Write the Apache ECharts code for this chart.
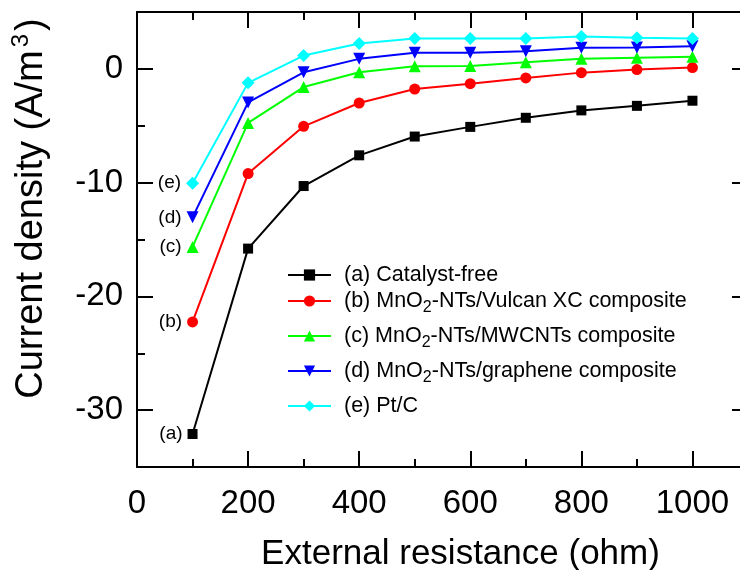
<!DOCTYPE html>
<html><head><meta charset="utf-8">
<script src="https://cdn.jsdelivr.net/npm/echarts@6/dist/echarts.min.js"></script>
<style>html,body{margin:0;padding:0;background:#fff}#c{width:740px;height:570px}</style>
</head><body><div id="c"></div>
<script>
const resistance = [100, 200, 300, 400, 500, 600, 700, 800, 900, 1000];
const seriesNames = [
  '(a) Catalyst-free',
  '(b) MnO2-NTs/Vulcan XC composite',
  '(c) MnO2-NTs/MWCNTs composite',
  '(d) MnO2-NTs/graphene composite',
  '(e) Pt/C'
];
const catalystFree = [-32.1, -15.8, -10.3, -7.6, -5.95, -5.1, -4.3, -3.65, -3.25, -2.8];
const vulcanXC     = [-22.25, -9.2, -5.05, -3.0, -1.77, -1.3, -0.8, -0.33, -0.06, 0.11];
const mwcnts       = [-15.65, -4.75, -1.6, -0.3, 0.23, 0.25, 0.58, 0.88, 0.97, 1.06];
const graphene     = [-13.05, -2.95, -0.3, 0.88, 1.41, 1.41, 1.55, 1.85, 1.87, 1.99];
const ptC          = [-10.05, -1.23, 1.17, 2.23, 2.67, 2.67, 2.68, 2.85, 2.73, 2.67];
const pointLabels = ['(a)', '(b)', '(c)', '(d)', '(e)'];
const xTickValues = [0, 200, 400, 600, 800, 1000];
const xMinorTickValues = [100, 300, 500, 700, 900];
const yTickValues = [-30, -20, -10, 0];
const yMinorTickValues = [-35, -25, -15, -5, 5];

const FONT = 'Liberation Sans, Arial, sans-serif';
const colors = ['#000000', '#ff0000', '#00ff00', '#0000ff', '#00ffff'];
const symbols = ['rect', 'circle', 'triangle', 'triangle', 'diamond'];
const symbolSizes = [10, 11, 12, 12, 13];
const symbolRotates = [0, 0, 0, 180, 0];
const legendCenters = [273, 299, 334, 369, 404];
const allValues = [catalystFree, vulcanXC, mwcnts, graphene, ptC];

function tickStyle(len, values) {
  return { show: true, inside: true, length: len, customValues: values, lineStyle: { color: '#000', width: 2 } };
}
function axisCommon(pos, extra) {
  return Object.assign({
    type: 'value', position: pos,
    axisLine: { show: true, onZero: false, lineStyle: { color: '#000', width: 2 } },
    splitLine: { show: false },
    axisLabel: { show: false }
  }, extra);
}
const hiddenLine = { show: false, onZero: false };

const xAxes = [
  axisCommon('bottom', {
    min: 0, max: 1100,
    name: 'External resistance (ohm)', nameLocation: 'middle', nameGap: 70,
    nameTextStyle: { fontFamily: FONT, fontSize: 35, color: '#000', padding: [0, 0, 0, 36] },
    axisLabel: { show: true, customValues: xTickValues, margin: 20, fontFamily: FONT, fontSize: 33, color: '#000',
      formatter: function (v) { return String(v); } },
    axisTick: tickStyle(16, xTickValues)
  }),
  axisCommon('bottom', { min: 0, max: 1100, axisLine: hiddenLine, axisTick: tickStyle(8, xMinorTickValues) }),
  axisCommon('top', { min: 0, max: 1100, axisTick: tickStyle(16, xTickValues) }),
  axisCommon('top', { min: 0, max: 1100, axisLine: hiddenLine, axisTick: tickStyle(8, xMinorTickValues) })
];

const yAxes = [
  axisCommon('left', {
    min: -35, max: 5,
    name: '{n|Current density (A/m}{s|3}{n|)}', nameLocation: 'middle', nameGap: 82,
    nameTextStyle: {
      fontFamily: FONT, fontSize: 38, color: '#000', padding: [0, 0, 0, 62],
      rich: {
        n: { fontFamily: FONT, fontSize: 38, color: '#000', lineHeight: 46 },
        s: { fontFamily: FONT, fontSize: 24, color: '#000', lineHeight: 24, verticalAlign: 'top', padding: [0, 3, 0, 3] }
      }
    },
    axisLabel: { show: true, customValues: yTickValues, margin: 14, fontFamily: FONT, fontSize: 33, color: '#000',
      formatter: function (v) { return String(v); } },
    axisTick: tickStyle(16, yTickValues)
  }),
  axisCommon('left', { min: -35, max: 5, axisLine: hiddenLine, axisTick: tickStyle(8, yMinorTickValues) }),
  axisCommon('right', { min: -35, max: 5, axisTick: tickStyle(16, yTickValues) }),
  axisCommon('right', { min: -35, max: 5, axisLine: hiddenLine, axisTick: tickStyle(8, yMinorTickValues) })
];

const series = allValues.map((vals, si) => ({
  name: seriesNames[si],
  type: 'line',
  xAxisIndex: 0, yAxisIndex: 0,
  symbol: symbols[si], symbolSize: symbolSizes[si], symbolRotate: symbolRotates[si],
  color: colors[si],
  lineStyle: { color: colors[si], width: 2 },
  itemStyle: { color: colors[si] },
  z: 2 + si,
  data: vals.map((v, i) => i === 0 ? {
    value: [resistance[i], v],
    label: { show: true, position: 'left', distance: 5, formatter: pointLabels[si], fontFamily: FONT, fontSize: 19, color: '#000' }
  } : [resistance[i], v])
}));

const legendRich = {
  g: { width: 8, fontSize: 22, lineHeight: 30 },
  n: { fontFamily: FONT, fontSize: 21.5, color: '#000', lineHeight: 30 },
  s: { fontFamily: FONT, fontSize: 16, color: '#000', lineHeight: 16, verticalAlign: 'bottom' }
};
const legends = seriesNames.map((nm, i) => ({
  data: [nm],
  left: 287, top: legendCenters[i] - 9,
  padding: 0, itemWidth: 43, itemHeight: 14,
  selectedMode: false,
  formatter: function (name) {
    const parts = name.split('MnO2');
    if (parts.length === 1) return '{g| }{n|' + name + '}';
    return '{g| }{n|' + parts[0] + 'MnO}{s|2}{n|' + parts[1] + '}';
  },
  textStyle: { fontFamily: FONT, fontSize: 21.5, color: '#000', rich: legendRich }
}));

const chart = echarts.init(document.getElementById('c'), null, { renderer: 'canvas' });
chart.setOption({
  animation: false,
  backgroundColor: '#fff',
  grid: { left: 137, width: 611, top: 12, height: 455, containLabel: false, outerBoundsMode: 'none' },
  legend: legends,
  xAxis: xAxes,
  yAxis: yAxes,
  series: series
});
</script>
</body></html>
